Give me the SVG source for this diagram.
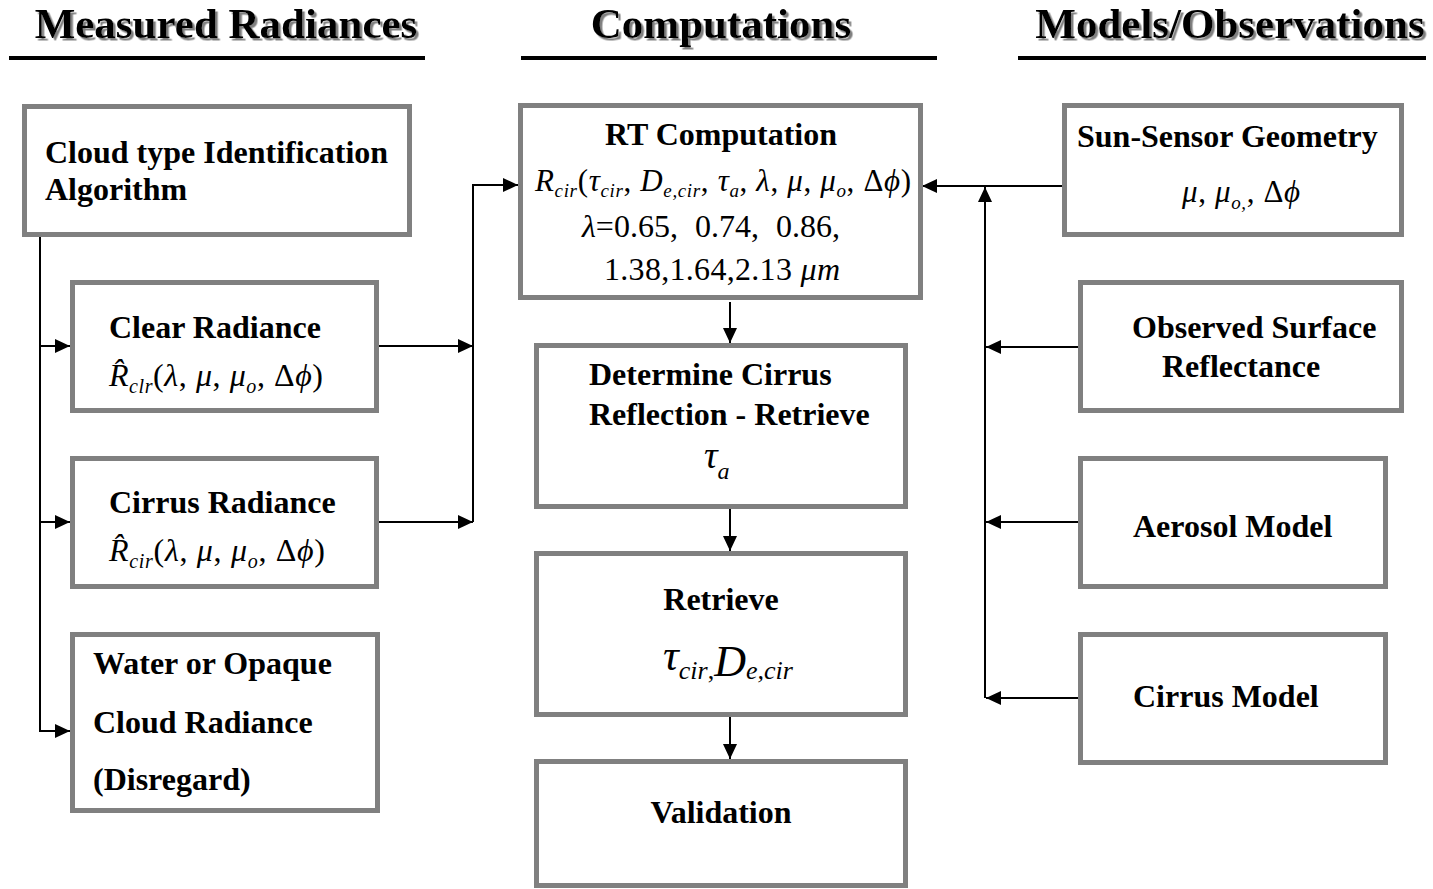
<svg xmlns="http://www.w3.org/2000/svg" width="1433" height="889" viewBox="0 0 1433 889">
<style>
.box{fill:#fff;stroke:#808080;stroke-width:5}
.hd{font-family:"Liberation Serif","Times New Roman",serif;font-weight:bold;font-size:43px;fill:#000;text-anchor:middle}
.lb{font-family:"Liberation Serif","Times New Roman",serif;font-weight:bold;font-size:32px;fill:#000}
.m{font-family:"Liberation Serif","Times New Roman","DejaVu Serif",serif;fill:#000}
.i{font-style:italic}
.c{text-anchor:middle}
.cn{fill:none;stroke:#000;stroke-width:2}
.hl{stroke:#000;stroke-width:4}
</style>
<defs>
<marker id="ah" markerUnits="userSpaceOnUse" markerWidth="15" markerHeight="14" refX="15" refY="7" orient="auto">
<path d="M0,0 L15,7 L0,14 z" fill="#000"/>
</marker>
<filter id="sh" x="-5%" y="-20%" width="110%" height="150%">
<feDropShadow dx="2.5" dy="2.5" stdDeviation="0.7" flood-color="#808080" flood-opacity="1"/>
</filter>
</defs>
<rect width="1433" height="889" fill="#fff"/>

<g id="headers">
<text class="hd" x="226" y="38" filter="url(#sh)">Measured Radiances</text>
<line class="hl" x1="9" y1="58" x2="425" y2="58"/>
<text class="hd" x="721" y="38" filter="url(#sh)">Computations</text>
<line class="hl" x1="521" y1="58" x2="937" y2="58"/>
<text class="hd" x="1230" y="38" filter="url(#sh)">Models/Observations</text>
<line class="hl" x1="1018" y1="58" x2="1426" y2="58"/>
</g>

<g id="connectors">
<path class="cn" d="M40,237 V731 H70" marker-end="url(#ah)"/>
<path class="cn" d="M40,346 H70" marker-end="url(#ah)"/>
<path class="cn" d="M40,522 H70" marker-end="url(#ah)"/>
<path class="cn" d="M379,346 H473" marker-end="url(#ah)"/>
<path class="cn" d="M379,522 H473" marker-end="url(#ah)"/>
<path class="cn" d="M473,522 V185 H518" marker-end="url(#ah)"/>
<path class="cn" d="M730,302 V343" marker-end="url(#ah)"/>
<path class="cn" d="M730,509 V551" marker-end="url(#ah)"/>
<path class="cn" d="M730,717 V759" marker-end="url(#ah)"/>
<path class="cn" d="M1062,186 H922" marker-end="url(#ah)"/>
<path class="cn" d="M985,698 V187" marker-end="url(#ah)"/>
<path class="cn" d="M1078,347 H986" marker-end="url(#ah)"/>
<path class="cn" d="M1078,522 H986" marker-end="url(#ah)"/>
<path class="cn" d="M1078,698 H986" marker-end="url(#ah)"/>
</g>

<g id="cloud-type">
<rect class="box" x="24.5" y="106.5" width="385" height="128"/>
<text class="lb" x="45" y="163">Cloud type Identification</text>
<text class="lb" x="45" y="200">Algorithm</text>
</g>

<g id="clear-radiance">
<rect class="box" x="72.5" y="282.5" width="304" height="128"/>
<text class="lb" x="109" y="338">Clear Radiance</text>
<text class="m" x="109" y="386" font-size="32" textLength="214" lengthAdjust="spacing"><tspan class="i">R&#x302;</tspan><tspan class="i" font-size="20" dy="7">clr</tspan><tspan dy="-7">(</tspan><tspan class="i">λ</tspan>, <tspan class="i">μ</tspan>, <tspan class="i">μ</tspan><tspan class="i" font-size="20" dy="7">o</tspan><tspan dy="-7">, Δ</tspan><tspan class="i">ϕ</tspan>)</text>
</g>

<g id="cirrus-radiance">
<rect class="box" x="72.5" y="458.5" width="304" height="128"/>
<text class="lb" x="109" y="513">Cirrus Radiance</text>
<text class="m" x="109" y="561" font-size="32" textLength="216" lengthAdjust="spacing"><tspan class="i">R&#x302;</tspan><tspan class="i" font-size="20" dy="7">cir</tspan><tspan dy="-7">(</tspan><tspan class="i">λ</tspan>, <tspan class="i">μ</tspan>, <tspan class="i">μ</tspan><tspan class="i" font-size="20" dy="7">o</tspan><tspan dy="-7">, Δ</tspan><tspan class="i">ϕ</tspan>)</text>
</g>

<g id="water-opaque">
<rect class="box" x="72.5" y="634.5" width="305" height="176"/>
<text class="lb" x="93" y="674">Water or Opaque</text>
<text class="lb" x="93" y="733">Cloud Radiance</text>
<text class="lb" x="93" y="790">(Disregard)</text>
</g>

<g id="rt-computation">
<rect class="box" x="520.5" y="105.5" width="400" height="192"/>
<text class="lb c" x="721" y="145">RT Computation</text>
<text class="m" x="535" y="191" font-size="31" textLength="376" lengthAdjust="spacing"><tspan class="i">R</tspan><tspan class="i" font-size="19" dy="6">cir</tspan><tspan dy="-6">(</tspan><tspan class="i">τ</tspan><tspan class="i" font-size="19" dy="6">cir</tspan><tspan dy="-6">, </tspan><tspan class="i">D</tspan><tspan class="i" font-size="19" dy="6">e,cir</tspan><tspan dy="-6">, </tspan><tspan class="i">τ</tspan><tspan class="i" font-size="19" dy="6">a</tspan><tspan dy="-6">, </tspan><tspan class="i">λ</tspan>, <tspan class="i">μ</tspan>, <tspan class="i">μ</tspan><tspan class="i" font-size="19" dy="6">o</tspan><tspan dy="-6">, Δ</tspan><tspan class="i">ϕ</tspan>)</text>
<text class="m" x="582" y="237" font-size="32"><tspan class="i">λ</tspan>=0.65,<tspan dx="17">0.74,</tspan><tspan dx="17">0.86,</tspan></text>
<text class="m" x="604" y="280" font-size="32" textLength="236" lengthAdjust="spacing">1.38,1.64,2.13 <tspan class="i">μm</tspan></text>
</g>

<g id="determine-cirrus">
<rect class="box" x="536.5" y="345.5" width="369" height="161"/>
<text class="lb" x="589" y="385">Determine Cirrus</text>
<text class="lb" x="589" y="425">Reflection - Retrieve</text>
<text class="m" x="704" y="468" font-size="38"><tspan class="i">τ</tspan><tspan class="i" font-size="24" dy="11">a</tspan></text>
</g>

<g id="retrieve">
<rect class="box" x="536.5" y="553.5" width="369" height="161"/>
<text class="lb c" x="721" y="610">Retrieve</text>
<text class="m" x="663" y="670" font-size="44"><tspan class="i">τ</tspan><tspan class="i" font-size="26" dy="9">cir</tspan><tspan font-size="26">,</tspan><tspan class="i" dy="-3">D</tspan><tspan class="i" font-size="26" dy="3">e,cir</tspan></text>
</g>

<g id="validation">
<rect class="box" x="536.5" y="761.5" width="369" height="124"/>
<text class="lb c" x="721" y="823">Validation</text>
</g>

<g id="sun-sensor">
<rect class="box" x="1064.5" y="105.5" width="337" height="129"/>
<text class="lb" x="1077" y="147">Sun-Sensor Geometry</text>
<text class="m" x="1182" y="202" font-size="31" textLength="118" lengthAdjust="spacing"><tspan class="i">μ</tspan>, <tspan class="i">μ</tspan><tspan class="i" font-size="19" dy="7">o,</tspan><tspan dy="-7">, Δ</tspan><tspan class="i">ϕ</tspan></text>
</g>

<g id="observed-surface">
<rect class="box" x="1080.5" y="282.5" width="321" height="128"/>
<text class="lb" x="1132" y="338">Observed Surface</text>
<text class="lb" x="1162" y="377">Reflectance</text>
</g>

<g id="aerosol-model">
<rect class="box" x="1080.5" y="458.5" width="305" height="128"/>
<text class="lb" x="1133" y="537">Aerosol Model</text>
</g>

<g id="cirrus-model">
<rect class="box" x="1080.5" y="634.5" width="305" height="128"/>
<text class="lb" x="1133" y="707">Cirrus Model</text>
</g>
</svg>
